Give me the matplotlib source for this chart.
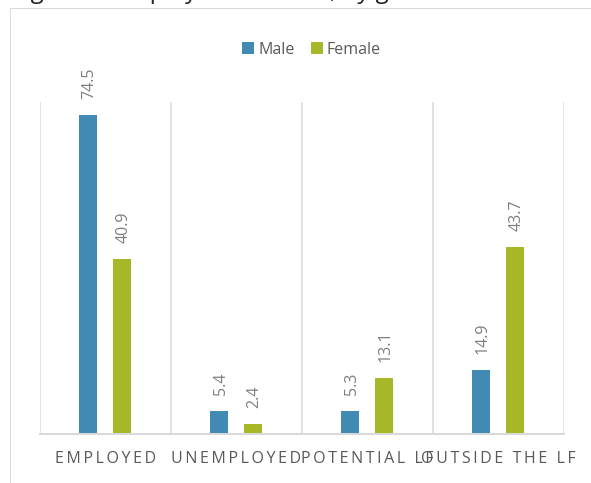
import matplotlib
matplotlib.use('Agg')
import numpy as np
import matplotlib.pyplot as plt
from matplotlib.lines import Line2D
from matplotlib.patches import Patch

# values
categories = ['EMPLOYED', 'UNEMPLOYED', 'POTENTIAL LF', 'OUTSIDE THE LF']
male = [74.5, 5.4, 5.3, 14.9]
female = [40.9, 2.4, 13.1, 43.7]
series_names = ['Male', 'Female']
title = 'Figure 2: Employment status, by gender'

blue = '#418AB3'
green = '#A6B727'
grid_c = '#d9d9d9'

plt.rcParams['font.family'] = ['Open Sans', 'DejaVu Sans']


def spaced(s):
    # mimic the character spacing of the axis labels
    return '\u2009'.join(s)


fig = plt.figure(figsize=(591/72, 483/72), dpi=72)
fig.patch.set_facecolor('white')

# chart frame (only top and left edges are visible)
fig.add_artist(Line2D([10/591, 10/591], [0, 1 - 7.5/483], color=grid_c, lw=1))
fig.add_artist(Line2D([10/591, 1], [1 - 7.5/483, 1 - 7.5/483], color=grid_c, lw=1))

# cropped title, only descenders show
fig.text(12/591, 1 + 1.5/483, title, fontsize=24, va='baseline', ha='left',
         color='#262626')

ax = fig.add_axes([39.6/591, 49/483, 524/591, 332/483])
x = np.arange(len(categories))
w = 0.137
off = 0.13
b1 = ax.bar(x - off, male, w, color=blue, label=series_names[0])
b2 = ax.bar(x + off, female, w, color=green, label=series_names[1])

for bars, vals in [(b1, male), (b2, female)]:
    for rect, v in zip(bars, vals):
        ax.annotate(f'{v}', xy=(rect.get_x() + rect.get_width()/2, v),
                    xytext=(1.5, 16), textcoords='offset points',
                    rotation=90, ha='center', va='bottom',
                    fontsize=16, color='#7f7f7f')

ax.set_xlim(-0.5, len(categories) - 0.5)
ax.set_ylim(0, 77.6)
for b in np.arange(len(categories) + 1) - 0.5:
    ax.axvline(b, color=grid_c, lw=1.5, zorder=0)

for s in ['top', 'right', 'left']:
    ax.spines[s].set_visible(False)
ax.spines['bottom'].set_color(grid_c)
ax.spines['bottom'].set_linewidth(2)
ax.set_yticks([])
ax.set_xticks(x)
ax.set_xticklabels([spaced(c) for c in categories], fontsize=16, color='#595959')
ax.tick_params(axis='x', length=0, pad=17)

handles = [Patch(color=blue), Patch(color=green)]
fig.legend(handles, series_names, loc='center', bbox_to_anchor=(311.5/591, 1 - 49.5/483),
           ncol=2, frameon=False, fontsize=16, labelcolor='#595959',
           handlelength=0.69, handleheight=0.69, handletextpad=0.3,
           columnspacing=1.0)

fig.savefig('out.png', dpi=72, facecolor='white')
